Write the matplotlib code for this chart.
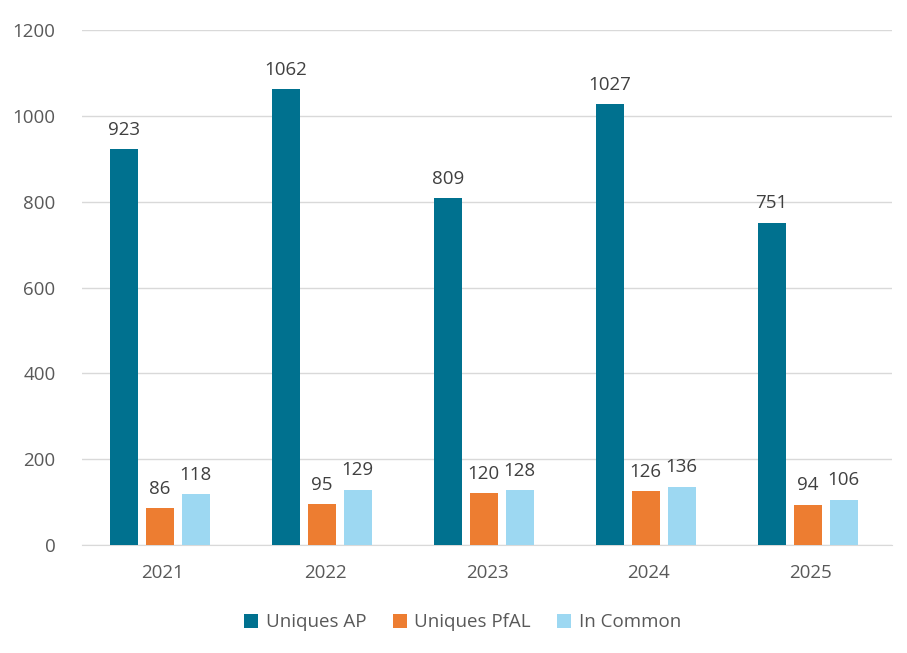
import numpy as np
import matplotlib.pyplot as plt

plt.rcParams['font.family'] = ['Open Sans', 'DejaVu Sans']

years = ['2021', '2022', '2023', '2024', '2025']
uniques_ap = [923, 1062, 809, 1027, 751]
uniques_pfal = [86, 95, 120, 126, 94]
in_common = [118, 129, 128, 136, 106]

series = [
    ('Uniques AP', uniques_ap, '#00718F'),
    ('Uniques PfAL', uniques_pfal, '#ED7D31'),
    ('In Common', in_common, '#9DD8F2'),
]

fig = plt.figure(figsize=(9.07, 6.53), dpi=100)
ax = fig.add_axes([0.0904, 0.1654, 0.893, 0.7886])

x = np.arange(len(years))
width = 0.173
step = 0.222
for i, (name, vals, col) in enumerate(series):
    pos = x + (i - 1) * step - 0.02
    bars = ax.bar(pos, vals, width, color=col, label=name, zorder=3)
    for b, v in zip(bars, vals):
        ax.text(b.get_x() + b.get_width() / 2, v + 24, str(v),
                ha='center', va='bottom', fontsize=13.5, color='#404040')

ax.set_ylim(0, 1200)
ax.set_xlim(-0.5, len(years) - 0.5)
ax.set_yticks(range(0, 1201, 200))
ax.set_xticks(x)
ax.set_xticklabels(years)
ax.tick_params(axis='both', length=0, labelsize=13.5, labelcolor='#595959')
ax.tick_params(axis='y', pad=19)
ax.tick_params(axis='x', pad=14)
ax.grid(axis='y', color='#D9D9D9', linewidth=1, zorder=0)
for s in ['top', 'right', 'left']:
    ax.spines[s].set_visible(False)
ax.spines['bottom'].set_color('#D9D9D9')

ax.legend(loc='upper center', bbox_to_anchor=(0.47, -0.1), ncol=3, frameon=False,
          fontsize=13.5, labelcolor='#595959', handlelength=0.75, handleheight=0.75,
          columnspacing=1.4, handletextpad=0.4)

fig.savefig('out.png', dpi=100)
